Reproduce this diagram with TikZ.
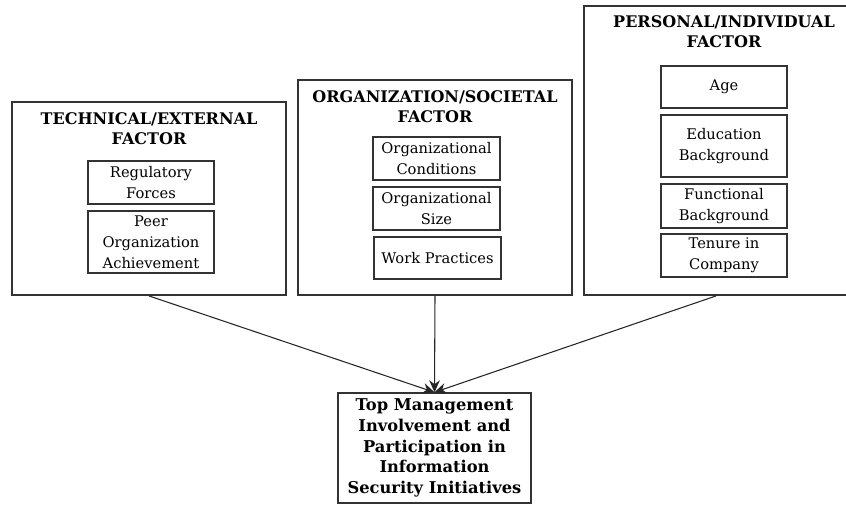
\documentclass[tikz,border=0pt]{standalone}
\usepackage{fontspec}
\setmainfont{DejaVu Serif}
\usepackage{tikz}
\usetikzlibrary{arrows.meta}

\begin{document}
\begin{tikzpicture}[x=0.75pt, y=-0.75pt,
  outer/.style={draw=black!80, line width=1.4pt, minimum width=#1},
  inner/.style={draw=black!80, line width=1.1pt, align=center, font=\fontsize{11}{15.75}\selectfont, inner sep=0pt},
  title/.style={align=center, font=\fontsize{12}{15}\selectfont\bfseries},
  arr/.style={-{Stealth[length=9pt, width=8pt]}, line width=0.8pt, black!85}]
\useasboundingbox (0,0) rectangle (846,504);
% factor boxes
\node[outer=274pt*0.75, minimum height=193*0.75pt] (tech) at (149,198.5) {};
\node[outer=274pt*0.75, minimum height=215*0.75pt] (org) at (435,187.5) {};
\node[outer=264pt*0.75, minimum height=289*0.75pt] (pers) at (716,150.5) {};
\node[title] (tt) at (149,129) {TECHNICAL/EXTERNAL\\FACTOR};
\node[title] (ot) at (435,107) {ORGANIZATION/SOCIETAL\\FACTOR};
\node[title] (pt) at (724,32) {PERSONAL/INDIVIDUAL\\FACTOR};
% technical
\node[inner, minimum width=126*0.75pt, minimum height=43*0.75pt] (reg) at (151,182.5) {Regulatory\\Forces};
\node[inner, minimum width=126*0.75pt, minimum height=62*0.75pt] (peer) at (151,242) {Peer\\Organization\\Achievement};
% organization
\node[inner, minimum width=127*0.75pt, minimum height=43*0.75pt] (cond) at (436.5,158.5) {Organizational\\Conditions};
\node[inner, minimum width=127*0.75pt, minimum height=43*0.75pt] (size) at (436.5,208.5) {Organizational\\Size};
\node[inner, minimum width=127*0.75pt, minimum height=42*0.75pt] (work) at (437.5,258) {Work Practices};
% personal
\node[inner, minimum width=126*0.75pt, minimum height=42*0.75pt] (age) at (724,87) {Age};
\node[inner, minimum width=126*0.75pt, minimum height=62*0.75pt] (edu) at (724,146) {Education\\Background};
\node[inner, minimum width=126*0.75pt, minimum height=44*0.75pt] (func) at (724,206) {Functional\\Background};
\node[inner, minimum width=126*0.75pt, minimum height=43*0.75pt] (ten) at (724,255.5) {Tenure in\\Company};
% outcome
\node[draw=black!80, line width=1.1pt, align=center, font=\fontsize{12.2}{15.5}\selectfont\bfseries,
  minimum width=193*0.75pt, minimum height=110*0.75pt, inner sep=0pt] (top) at (434.5,448)
  {Top Management\\Involvement and\\Participation in\\Information\\Security Initiatives};
\draw[arr] (tech.south) -- (top.north);
\draw[arr] (org.south) -- (top.north);
\draw[arr] (pers.south) -- (top.north);
\end{tikzpicture}
\end{document}
